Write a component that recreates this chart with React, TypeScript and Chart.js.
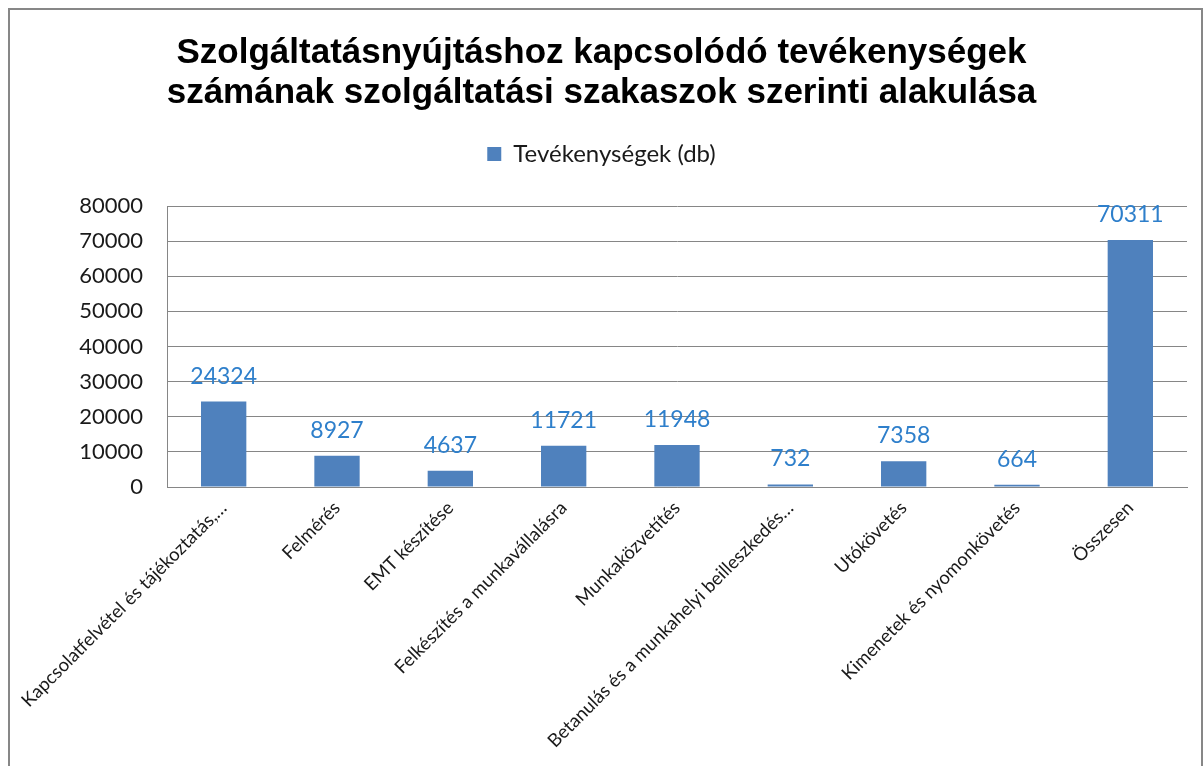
import React, { useEffect, useRef } from "react";
import { Chart, registerables } from "chart.js";

Chart.register(...registerables);

const categories = [
  "Kapcsolatfelvétel és tájékoztatás,…",
  "Felmérés",
  "EMT készítése",
  "Felkészítés a munkavállalásra",
  "Munkaközvetítés",
  "Betanulás és a munkahelyi beilleszkedés…",
  "Utókövetés",
  "Kimenetek és nyomonkövetés",
  "Összesen",
];
const seriesName = "Tevékenységek (db)";
const values = [24324, 8927, 4637, 11721, 11948, 732, 7358, 664, 70311];
const titleLines = [
  "Szolgáltatásnyújtáshoz kapcsolódó tevékenységek",
  "számának szolgáltatási szakaszok szerinti alakulása",
];
const yMin = 0;
const yMax = 80000;
const yStep = 10000;

const FONT = "Lato, 'Open Sans', sans-serif";

const valueLabels = {
  id: "valueLabels",
  afterDatasetsDraw(chart: any) {
    const ctx = chart.ctx;
    const meta = chart.getDatasetMeta(0);
    ctx.save();
    ctx.font = `23px ${FONT}`;
    ctx.fillStyle = "#2E7FCB";
    ctx.textAlign = "center";
    ctx.textBaseline = "alphabetic";
    meta.data.forEach((bar: any, i: number) => {
      const v = chart.data.datasets[0].data[i];
      ctx.fillText(String(v), bar.x, bar.y - 18);
    });
    ctx.restore();
  },
};

export default function App() {
  const ref = useRef<HTMLCanvasElement | null>(null);
  useEffect(() => {
    if (!ref.current) return;
    const chart = new Chart(ref.current, {
      type: "bar",
      data: {
        labels: categories,
        datasets: [
          {
            label: seriesName,
            data: values,
            backgroundColor: "#4F81BD",
            borderWidth: 0,
            categoryPercentage: 1,
            barPercentage: 0.4,
          },
        ],
      },
      options: {
        animation: false,
        responsive: false,
        maintainAspectRatio: false,
        layout: { padding: { left: 16, right: 16, top: 22, bottom: 0 } },
        plugins: {
          title: {
            display: true,
            text: titleLines,
            color: "#000",
            font: { family: "'Liberation Sans', Arial, sans-serif", size: 35, weight: "bold", lineHeight: 1.143 },
            padding: { top: 11, bottom: 2 },
          },
          // empty spacer between legend and plot area
          subtitle: {
            display: true,
            text: "",
            weight: 500,
            font: { size: 10, lineHeight: 1 },
            padding: { top: 10, bottom: 10 },
          },
          legend: {
            display: true,
            position: "top",
            labels: {
              boxWidth: 14,
              boxHeight: 14,
              color: "#1a1a1a",
              font: { family: FONT, size: 24 },
              padding: 27,
            },
          },
          tooltip: { enabled: false },
        },
        scales: {
          x: {
            grid: { display: false, drawTicks: false },
            border: { color: "#868686", width: 1 },
            afterFit: (scale: any) => {
              scale.height = 279;
            },
            ticks: {
              color: "#1a1a1a",
              font: { family: FONT, size: 18.5 },
              maxRotation: 45,
              minRotation: 45,
              autoSkip: false,
              padding: 10,
            },
          },
          y: {
            min: yMin,
            max: yMax,
            grid: { color: "#868686", drawTicks: false },
            border: { color: "#868686", width: 1 },
            afterFit: (scale: any) => {
              scale.width = 151;
            },
            ticks: {
              stepSize: yStep,
              color: "#1a1a1a",
              font: { family: FONT, size: 22 },
              padding: 24,
              callback: (v: any) => String(v),
            },
          },
        },
      },
      plugins: [valueLabels],
    });
    return () => chart.destroy();
  }, []);

  return (
    <div style={{ position: "fixed", left: 0, top: 0, width: 1203, height: 766, overflow: "hidden", background: "#fff" }}>
      <div
        style={{
          position: "absolute",
          left: 8,
          top: 8,
          width: 1195,
          height: 800,
          border: "2px solid #878787",
          boxSizing: "border-box",
        }}
      />
      <canvas ref={ref} width={1203} height={766} style={{ position: "absolute", left: 0, top: 0 }} />
    </div>
  );
}
